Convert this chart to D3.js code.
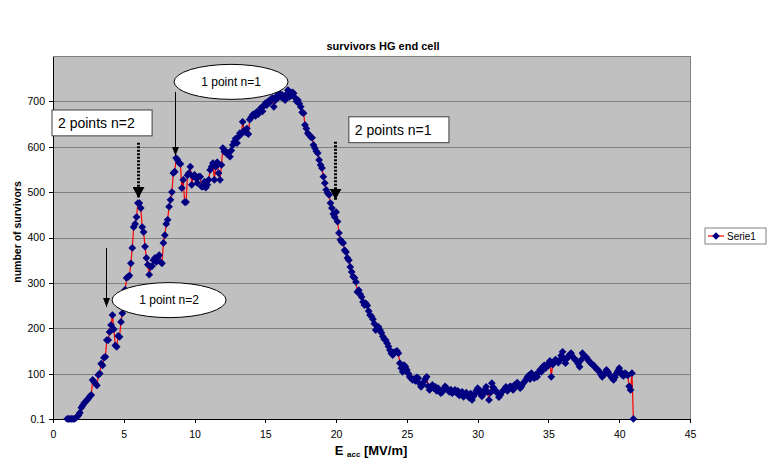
<!DOCTYPE html>
<html>
<head>
    <title>survivors HG end cell - D3.js</title>
    <script src="https://d3js.org/d3.v7.min.js"></script>
    <style>
        body {
            margin: 0;
            background: #fff;
        }

        .axis path,
        .axis line {
            fill: none;
            stroke: #000;
            shape-rendering: crispEdges;
        }

        .axis text {
            font-family: "Liberation Sans", Arial, sans-serif;
            font-size: 10.5px;
            fill: #000;
        }

        .grid line {
            stroke: #808080;
            shape-rendering: crispEdges;
        }

        .chart-title,
        .axis-title {
            font-family: "Liberation Sans", Arial, sans-serif;
            font-weight: bold;
            text-anchor: middle;
        }

        .note {
            font-family: "Liberation Sans", Arial, sans-serif;
            fill: #000;
        }
    </style>
</head>
<body>

    <div id="chart"></div>

    <script>
        // E_acc [MV/m]
        const energy = [
            1.0, 1.1, 1.2, 1.3, 1.4, 1.5, 1.6, 1.7, 1.8, 1.9,
            2.0, 2.1, 2.2, 2.3, 2.4, 2.5, 2.6, 2.7, 2.8, 2.9,
            3.0, 3.1, 3.2, 3.3, 3.4, 3.5, 3.6, 3.7, 3.8, 3.9,
            4.0, 4.1, 4.2, 4.3, 4.4, 4.5, 4.6, 4.7, 4.8, 4.9,
            5.0, 5.1, 5.2, 5.3, 5.4, 5.5, 5.6, 5.7, 5.8, 5.9,
            6.0, 6.1, 6.2, 6.3, 6.4, 6.5, 6.6, 6.7, 6.8, 6.9,
            7.0, 7.1, 7.2, 7.3, 7.4, 7.5, 7.6, 7.7, 7.8, 7.9,
            8.0, 8.1, 8.2, 8.3, 8.4, 8.5, 8.6, 8.7, 8.8, 8.9,
            9.0, 9.1, 9.2, 9.3, 9.4, 9.5, 9.6, 9.7, 9.8, 9.9,
            10.0, 10.1, 10.2, 10.3, 10.4, 10.5, 10.6, 10.7, 10.8, 10.9,
            11.0, 11.1, 11.2, 11.3, 11.4, 11.5, 11.6, 11.7, 11.8, 11.9,
            12.0, 12.1, 12.2, 12.3, 12.4, 12.5, 12.6, 12.7, 12.8, 12.9,
            13.0, 13.1, 13.2, 13.3, 13.4, 13.5, 13.6, 13.7, 13.8, 13.9,
            14.0, 14.1, 14.2, 14.3, 14.4, 14.5, 14.6, 14.7, 14.8, 14.9,
            15.0, 15.1, 15.2, 15.3, 15.4, 15.5, 15.6, 15.7, 15.8, 15.9,
            16.0, 16.1, 16.2, 16.3, 16.4, 16.5, 16.6, 16.7, 16.8, 16.9,
            17.0, 17.1, 17.2, 17.3, 17.4, 17.5, 17.6, 17.7, 17.8, 17.9,
            18.0, 18.1, 18.2, 18.3, 18.4, 18.5, 18.6, 18.7, 18.8, 18.9,
            19.0, 19.1, 19.2, 19.3, 19.4, 19.5, 19.6, 19.7, 19.8, 19.9,
            20.0, 20.1, 20.2, 20.3, 20.4, 20.5, 20.6, 20.7, 20.8, 20.9,
            21.0, 21.1, 21.2, 21.3, 21.4, 21.5, 21.6, 21.7, 21.8, 21.9,
            22.0, 22.1, 22.2, 22.3, 22.4, 22.5, 22.6, 22.7, 22.8, 22.9,
            23.0, 23.1, 23.2, 23.3, 23.4, 23.5, 23.6, 23.7, 23.8, 23.9,
            24.0, 24.1, 24.2, 24.3, 24.4, 24.5, 24.6, 24.7, 24.8, 24.9,
            25.0, 25.1, 25.2, 25.3, 25.4, 25.5, 25.6, 25.7, 25.8, 25.9,
            26.0, 26.1, 26.2, 26.3, 26.4, 26.5, 26.6, 26.7, 26.8, 26.9,
            27.0, 27.1, 27.2, 27.3, 27.4, 27.5, 27.6, 27.7, 27.8, 27.9,
            28.0, 28.1, 28.2, 28.3, 28.4, 28.5, 28.6, 28.7, 28.8, 28.9,
            29.0, 29.1, 29.2, 29.3, 29.4, 29.5, 29.6, 29.7, 29.8, 29.9,
            30.0, 30.1, 30.2, 30.3, 30.4, 30.5, 30.6, 30.7, 30.8, 30.9,
            31.0, 31.1, 31.2, 31.3, 31.4, 31.5, 31.6, 31.7, 31.8, 31.9,
            32.0, 32.1, 32.2, 32.3, 32.4, 32.5, 32.6, 32.7, 32.8, 32.9,
            33.0, 33.1, 33.2, 33.3, 33.4, 33.5, 33.6, 33.7, 33.8, 33.9,
            34.0, 34.1, 34.2, 34.3, 34.4, 34.5, 34.6, 34.7, 34.8, 34.9,
            35.0, 35.1, 35.2, 35.3, 35.4, 35.5, 35.6, 35.7, 35.8, 35.9,
            36.0, 36.1, 36.2, 36.3, 36.4, 36.5, 36.6, 36.7, 36.8, 36.9,
            37.0, 37.1, 37.2, 37.3, 37.4, 37.5, 37.6, 37.7, 37.8, 37.9,
            38.0, 38.1, 38.2, 38.3, 38.4, 38.5, 38.6, 38.7, 38.8, 38.9,
            39.0, 39.1, 39.2, 39.3, 39.4, 39.5, 39.6, 39.7, 39.8, 39.9,
            40.0, 40.1, 40.2, 40.3, 40.4, 40.5, 40.6, 40.7, 40.8, 40.9,
            41.0
        ];

        // number of survivors (Serie1)
        const survivors = [
            0.1, 0.1, 0.1, 0.1, 0.1, 0.1, 2, 5, 8, 14,
            25, 30, 35, 38, 42, 45, 50, 53, 86, 82,
            78, 74, 97, 100, 122, 118, 135, 137, 174, 174,
            192, 207, 229, 198, 162, 159, 183, 181, 214, 233,
            260, 285, 311, 313, 316, 343, 377, 423, 430, 445,
            476, 476, 465, 423, 412, 380, 355, 340, 318, 335,
            337, 350, 355, 346, 357, 361, 346, 343, 388, 405,
            430, 439, 468, 483, 500, 542, 545, 575, 571, 565,
            562, 509, 527, 478, 478, 537, 542, 556, 516, 534,
            538, 531, 520, 534, 534, 512, 512, 523, 510, 516,
            527, 549, 556, 564, 527, 556, 566, 542, 527, 560,
            597, 589, 590, 584, 586, 578, 592, 604, 611, 618,
            608, 622, 630, 628, 655, 636, 632, 640, 628, 660,
            665, 670, 672, 668, 677, 672, 680, 686, 678, 690,
            696, 692, 700, 697, 705, 707, 688, 702, 712, 708,
            718, 710, 714, 706, 703, 716, 725, 710, 712, 720,
            718, 708, 700, 703, 695, 688, 676, 674, 648, 640,
            630, 626, 622, 620, 604, 597, 590, 586, 571, 560,
            553, 534, 520, 505, 498, 494, 476, 465, 452, 445,
            456, 435, 410, 395, 390, 388, 372, 368, 355, 350,
            335, 324, 314, 311, 302, 280, 284, 275, 269, 258,
            251, 255, 250, 238, 229, 226, 220, 210, 196, 200,
            203, 196, 190, 182, 176, 174, 167, 160, 152, 145,
            141, 147, 148, 150, 145, 123, 112, 104, 119, 115,
            108, 100, 93, 90, 86, 88, 84, 92, 90, 78,
            71, 75, 82, 88, 93, 72, 64, 70, 75, 68,
            71, 62, 68, 62, 57, 60, 66, 72, 68, 63,
            60, 65, 57, 60, 64, 58, 62, 52, 55, 60,
            49, 53, 58, 52, 47, 56, 42, 50, 55, 62,
            68, 58, 62, 50, 55, 64, 71, 60, 42, 58,
            79, 70, 65, 60, 58, 48, 53, 60, 62, 66,
            71, 62, 66, 72, 70, 64, 75, 72, 80, 74,
            68, 72, 78, 82, 86, 92, 96, 88, 101, 95,
            90, 98, 93, 102, 108, 104, 115, 118, 112, 120,
            118, 128, 93, 120, 126, 131, 128, 124, 130, 140,
            148, 132, 123, 133, 138, 142, 145, 138, 134, 130,
            128, 122, 115, 130, 145, 140, 138, 135, 130, 126,
            123, 120, 118, 114, 110, 108, 104, 98, 93, 97,
            100, 108, 104, 98, 95, 90, 86, 92, 100, 106,
            112, 104, 97, 95, 101, 99, 96, 72, 64, 101,
            0.1
        ];

        // tick labels
        const xTicks = [0, 5, 10, 15, 20, 25, 30, 35, 40, 45];
        const yTicks = [0, 100, 200, 300, 400, 500, 600, 700];
        const yTickLabels = ["0.1", "100", "200", "300", "400", "500", "600", "700"];

        const seriesName = "Serie1";

        // annotations (text, position in data units)
        const boxNotes = [
            { text: "2 points n=2", x0: -0.07, x1: 7.0, top: 681, bottom: 624 },
            { text: "2 points n=1", x0: 20.9, x1: 27.97, top: 666, bottom: 609 }
        ];
        const ellipseNotes = [
            { text: "1 point n=1", cx: 12.58, cy: 743 },
            { text: "1 point n=2", cx: 8.2, cy: 262 }
        ];
        const arrows = [
            { x: 6.0, from: 609, to: 487, dotted: true },
            { x: 19.92, from: 611, to: 483, dotted: true },
            { x: 8.62, from: 721, to: 580, dotted: false },
            { x: 3.74, from: 377, to: 247, dotted: false }
        ];

        const points = energy.map((e, i) => ({ e: e, v: survivors[i] }))
            .filter(d => d.v !== undefined);

        // ukuran
        const width = 767, height = 460;
        const plot = { left: 53, right: 690, top: 56, bottom: 419 };

        const svg = d3.select("#chart")
            .append("svg")
            .attr("width", width)
            .attr("height", height);

        const x = d3.scaleLinear().domain([0, 45]).range([plot.left, plot.right]);
        const y = d3.scaleLinear().domain([0, 800]).range([plot.bottom, plot.top]);

        // plot area
        svg.append("rect")
            .attr("x", plot.left)
            .attr("y", plot.top)
            .attr("width", plot.right - plot.left)
            .attr("height", plot.bottom - plot.top)
            .attr("fill", "#c0c0c0")
            .attr("stroke", "#808080")
            .attr("shape-rendering", "crispEdges");

        // gridlines
        svg.append("g")
            .attr("class", "grid")
            .selectAll("line")
            .data(yTicks.filter(t => t > 0))
            .enter()
            .append("line")
            .attr("x1", plot.left)
            .attr("x2", plot.right)
            .attr("y1", d => Math.round(y(d)) + 0.5)
            .attr("y2", d => Math.round(y(d)) + 0.5);

        // sumbu X
        svg.append("g")
            .attr("class", "x axis")
            .attr("transform", `translate(0,${plot.bottom})`)
            .call(d3.axisBottom(x).tickValues(xTicks).tickSize(4).tickSizeOuter(0).tickPadding(8));

        // sumbu Y
        svg.append("g")
            .attr("class", "y axis")
            .attr("transform", `translate(${plot.left},0)`)
            .call(d3.axisLeft(y).tickValues(yTicks).tickSize(4).tickSizeOuter(0).tickPadding(4)
                .tickFormat((d, i) => yTickLabels[i]));

        // line + markers
        const line = d3.line().x(d => x(d.e)).y(d => y(d.v));

        svg.append("path")
            .datum(points)
            .attr("fill", "none")
            .attr("stroke", "#ff0000")
            .attr("stroke-width", 1.2)
            .attr("d", line);

        const diamond = d3.symbol().type(d3.symbolSquare).size(30);

        svg.append("g")
            .selectAll("path")
            .data(points)
            .enter()
            .append("path")
            .attr("d", diamond)
            .attr("fill", "#000080")
            .attr("transform", d => `translate(${x(d.e)},${y(d.v)}) rotate(45)`);

        // arrow heads
        const defs = svg.append("defs");
        defs.append("marker")
            .attr("id", "headBig")
            .attr("viewBox", "0 0 11 12")
            .attr("refX", 11).attr("refY", 6)
            .attr("markerWidth", 11).attr("markerHeight", 12)
            .attr("markerUnits", "userSpaceOnUse")
            .attr("orient", "auto")
            .append("path").attr("d", "M0,0 L11,6 L0,12 Z").attr("fill", "#000");
        defs.append("marker")
            .attr("id", "headSmall")
            .attr("viewBox", "0 0 9 7")
            .attr("refX", 9).attr("refY", 3.5)
            .attr("markerWidth", 9).attr("markerHeight", 7)
            .attr("markerUnits", "userSpaceOnUse")
            .attr("orient", "auto")
            .append("path").attr("d", "M0,0 L9,3.5 L0,7 Z").attr("fill", "#000");

        svg.append("g")
            .selectAll("line")
            .data(arrows)
            .enter()
            .append("line")
            .attr("x1", d => Math.round(x(d.x)) + 0.5)
            .attr("x2", d => Math.round(x(d.x)) + 0.5)
            .attr("y1", d => y(d.from))
            .attr("y2", d => y(d.to))
            .attr("stroke", "#000")
            .attr("stroke-width", d => d.dotted ? 3 : 1)
            .attr("stroke-dasharray", d => d.dotted ? "2,1.5" : null)
            .attr("marker-end", d => d.dotted ? "url(#headBig)" : "url(#headSmall)");

        // text boxes
        const boxes = svg.append("g").selectAll("g")
            .data(boxNotes)
            .enter()
            .append("g");
        boxes.append("rect")
            .attr("x", d => x(d.x0))
            .attr("y", d => y(d.top))
            .attr("width", d => x(d.x1) - x(d.x0))
            .attr("height", d => y(d.bottom) - y(d.top))
            .attr("fill", "#fff")
            .attr("stroke", "#404040");
        boxes.append("text")
            .attr("class", "note")
            .attr("x", d => x(d.x0) + 6)
            .attr("y", d => (y(d.top) + y(d.bottom)) / 2 + 5)
            .style("font-size", "14px")
            .text(d => d.text);

        // ellipses
        const ells = svg.append("g").selectAll("g")
            .data(ellipseNotes)
            .enter()
            .append("g");
        ells.append("ellipse")
            .attr("cx", d => x(d.cx))
            .attr("cy", d => y(d.cy))
            .attr("rx", 57)
            .attr("ry", 17.5)
            .attr("fill", "#fff")
            .attr("stroke", "#000");
        ells.append("text")
            .attr("class", "note")
            .attr("x", d => x(d.cx))
            .attr("y", d => y(d.cy) + 4)
            .attr("text-anchor", "middle")
            .style("font-size", "12px")
            .text(d => d.text);

        // judul
        svg.append("text")
            .attr("class", "chart-title")
            .attr("x", 383)
            .attr("y", 50)
            .style("font-size", "11px")
            .text("survivors HG end cell");

        // label sumbu Y
        svg.append("text")
            .attr("class", "axis-title")
            .attr("transform", "rotate(-90)")
            .attr("x", -232)
            .attr("y", 21)
            .style("font-size", "10.5px")
            .text("number of survivors");

        // label sumbu X
        const xt = svg.append("text")
            .attr("class", "axis-title")
            .attr("x", 371)
            .attr("y", 455)
            .style("font-size", "13px");
        xt.append("tspan").text("E ");
        xt.append("tspan").style("font-size", "8px").attr("dy", 2).text("acc");
        xt.append("tspan").attr("dy", -2).text(" [MV/m]");

        // legend
        const lg = svg.append("g").attr("transform", "translate(705,228)");
        lg.append("rect")
            .attr("width", 61).attr("height", 16)
            .attr("fill", "#fff")
            .attr("stroke", "#808080");
        lg.append("line")
            .attr("x1", 3).attr("x2", 19).attr("y1", 8).attr("y2", 8)
            .attr("stroke", "#ff0000").attr("stroke-width", 1.2);
        lg.append("path")
            .attr("d", diamond)
            .attr("fill", "#000080")
            .attr("transform", "translate(11,8) rotate(45)");
        lg.append("text")
            .attr("x", 22).attr("y", 12)
            .style("font-family", "'Liberation Sans', Arial, sans-serif")
            .style("font-size", "10px")
            .text(seriesName);
    </script>

</body>
</html>
